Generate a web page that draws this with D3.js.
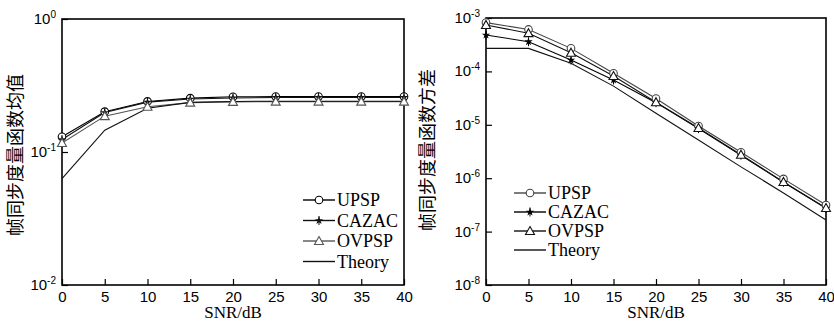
<!DOCTYPE html>
<html><head><meta charset="utf-8">
<script src="https://cdn.jsdelivr.net/npm/d3@7"></script>
<style>body{margin:0;background:#fff}svg{display:block}</style>
</head><body>
<svg id="c" width="834" height="323"></svg>
<script>
const snr = [0,5,10,15,20,25,30,35,40];
const xTicks = [0,5,10,15,20,25,30,35,40];
const seriesNames = ["UPSP","CAZAC","OVPSP","Theory"];
// Left: mean
const meanUPSP   = [0.130,0.201,0.240,0.254,0.260,0.261,0.261,0.261,0.261];
const meanCAZAC  = [0.124,0.198,0.237,0.250,0.255,0.257,0.257,0.257,0.257];
const meanOVPSP  = [0.117,0.186,0.219,0.235,0.238,0.239,0.239,0.239,0.239];
const meanTheory = [0.063,0.146,0.213,0.236,0.240,0.241,0.241,0.241,0.241];
const meanTicks = [1e-2,1e-1,1e0];
// Right: variance
const varUPSP   = [8.2e-4,6.1e-4,2.7e-4,9.2e-5,3.1e-5,9.5e-6,3.05e-6,9.7e-7,3.15e-7];
const varCAZAC  = [4.8e-4,3.6e-4,1.63e-4,6.9e-5,2.6e-5,8.5e-6,2.7e-6,8.4e-7,2.73e-7];
const varOVPSP  = [7.4e-4,5.2e-4,2.24e-4,8.2e-5,2.65e-5,8.7e-6,2.75e-6,8.5e-7,2.76e-7];
const varTheory = [2.7e-4,2.7e-4,1.42e-4,5.3e-5,1.64e-5,5.2e-6,1.63e-6,5.3e-7,1.65e-7];
const varTicks = [1e-8,1e-7,1e-6,1e-5,1e-4,1e-3];

const svg = d3.select("#c");

function drawPanel(cfg){
  const g = svg.append("g");
  const x = d3.scaleLinear().domain([0,40]).range([cfg.x0,cfg.x1]);
  const y = d3.scaleLog().domain(cfg.ydom).range([cfg.y1,cfg.y0]);
  g.append("rect").attr("x",cfg.x0).attr("y",cfg.y0).attr("width",cfg.x1-cfg.x0).attr("height",cfg.y1-cfg.y0)
    .attr("fill","none").attr("stroke","#000").attr("stroke-width",1.6);
  const xa = d3.axisBottom(x).tickValues(xTicks).tickSizeInner(-6).tickSizeOuter(0).tickPadding(6);
  const xg = g.append("g").attr("transform",`translate(0,${cfg.y1})`).call(xa);
  xg.select(".domain").remove();
  xg.selectAll("line").attr("stroke","#000").attr("stroke-width",1.2);
  xg.selectAll("text").attr("font-family","Liberation Sans, Arial, sans-serif").attr("font-size",15).attr("fill","#000");
  const ya = d3.axisLeft(y).tickValues(cfg.yticks).tickSizeInner(-6).tickSizeOuter(0).tickPadding(8).tickFormat(()=> "");
  const yg = g.append("g").attr("transform",`translate(${cfg.x0},0)`).call(ya);
  yg.select(".domain").remove();
  yg.selectAll("line").attr("stroke","#000").attr("stroke-width",1.2);
  yg.selectAll(".tick").each(function(d){
    const e = Math.round(Math.log10(d));
    const t = d3.select(this).select("text").attr("x",-6).attr("dy","0.3em")
      .attr("font-family","Liberation Sans, Arial, sans-serif").attr("font-size",15).attr("fill","#000").attr("text-anchor","end");
    t.text("10");
    t.append("tspan").attr("dy","-0.6em").attr("font-size",10).text(String(e));
  });
  g.append("text").attr("x",(cfg.x0+cfg.x1)/2).attr("y",cfg.y1+33)
    .attr("text-anchor","middle").attr("font-family","Liberation Serif, Times New Roman, serif")
    .attr("font-size",17).text("SNR/dB");
  g.append("text").attr("transform",`translate(${cfg.ylabX},${cfg.ylabY}) rotate(-90)`)
    .attr("text-anchor","middle").attr("font-family","Noto Sans CJK SC, sans-serif")
    .attr("font-size",18).text(cfg.ylabel);
  const line = d3.line().x((d,i)=>x(snr[i])).y(d=>y(d));
  cfg.series.forEach(s=>{
    g.append("path").datum(s.vals).attr("d",line).attr("fill","none")
      .attr("stroke",s.color).attr("stroke-width",1.1);
  });
  cfg.series.forEach(s=>{
    if(!s.marker) return;
    s.vals.forEach((v,i)=>marker(g,s.marker,x(snr[i]),y(v),s.color));
  });
  cfg.series.forEach((s,i)=>{
    const ly = cfg.legY + i*cfg.legDy;
    g.append("line").attr("x1",cfg.legX).attr("x2",cfg.legX+32).attr("y1",ly).attr("y2",ly)
      .attr("stroke",s.color).attr("stroke-width",1.4);
    if(s.marker) marker(g,s.marker,cfg.legX+16,ly,s.color);
    g.append("text").attr("x",cfg.legX+34).attr("y",ly).attr("dy","0.35em")
      .attr("font-family","Liberation Serif, Times New Roman, serif").attr("font-size",18).text(s.name);
  });
}
function marker(g,type,cx,cy,color){
  if(type==="circle"){
    g.append("circle").attr("cx",cx).attr("cy",cy).attr("r",3.8).attr("fill","#fff").attr("stroke",color).attr("stroke-width",1.1);
  } else if(type==="tri"){
    g.append("path").attr("d",`M${cx},${cy-4.5}L${cx+4.5},${cy+3.5}L${cx-4.5},${cy+3.5}Z`).attr("fill","#fff").attr("stroke",color).attr("stroke-width",1.1);
  } else {
    g.append("path").attr("d",d3.symbol(d3.symbolStar,22)()).attr("transform",`translate(${cx},${cy})`).attr("fill",color);
    g.append("line").attr("x1",cx).attr("x2",cx).attr("y1",cy-4.5).attr("y2",cy+4.5).attr("stroke",color).attr("stroke-width",1);
  }
}
drawPanel({x0:62,x1:404,y0:19,y1:285,ydom:[1e-2,1],yticks:meanTicks,ylabX:22,ylabY:155,ylabel:"帧同步度量函数均值",
  legX:303,legY:200,legDy:20.5,
  series:[{name:"UPSP",vals:meanUPSP,color:"#000",marker:"circle"},
          {name:"CAZAC",vals:meanCAZAC,color:"#111",marker:"star"},
          {name:"OVPSP",vals:meanOVPSP,color:"#555",marker:"tri"},
          {name:"Theory",vals:meanTheory,color:"#111",marker:null}]});
drawPanel({x0:486,x1:826,y0:18,y1:285,ydom:[1e-8,1e-3],yticks:varTicks,ylabX:434,ylabY:150,ylabel:"帧同步度量函数方差",
  legX:514,legY:193,legDy:19,
  series:[{name:"UPSP",vals:varUPSP,color:"#444",marker:"circle"},
          {name:"CAZAC",vals:varCAZAC,color:"#000",marker:"star"},
          {name:"OVPSP",vals:varOVPSP,color:"#111",marker:"tri"},
          {name:"Theory",vals:varTheory,color:"#111",marker:null}]});
</script>
</body></html>
